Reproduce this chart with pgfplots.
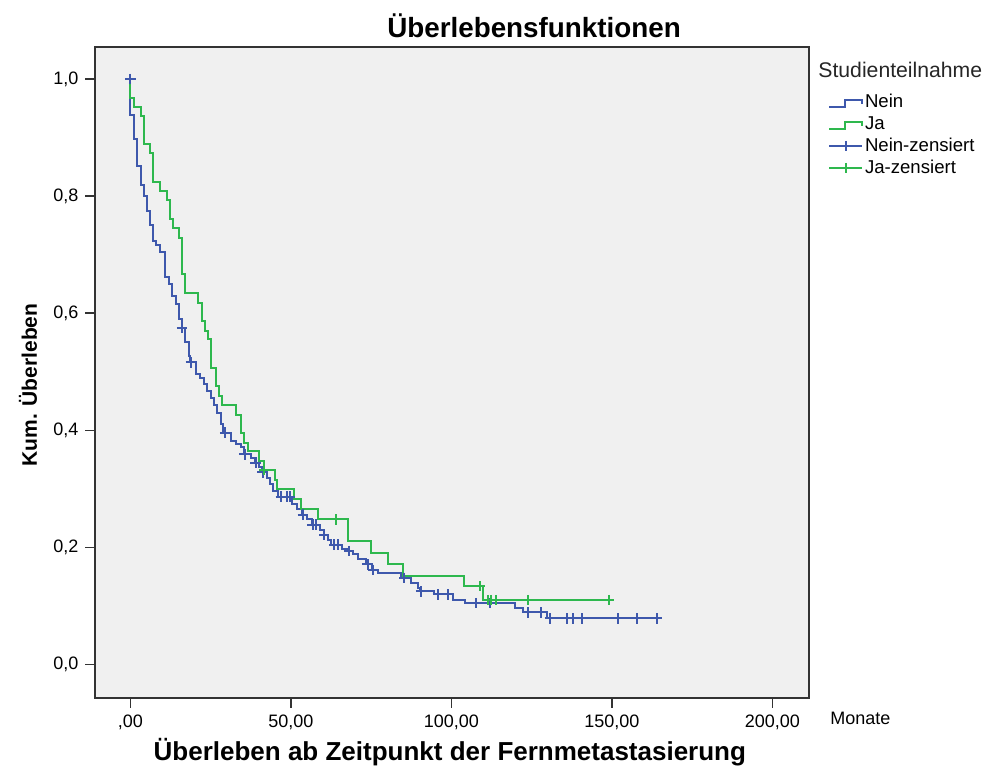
\documentclass[border=0pt]{standalone}
\usepackage{pgfplots}
\pgfplotsset{compat=1.18}
\usepackage{fontspec}
\setmainfont{Liberation Sans}

\definecolor{spssblue}{RGB}{62,88,172}
\definecolor{spssgreen}{RGB}{46,184,78}
\definecolor{spssbg}{RGB}{240,240,240}

\pgfplotsset{
    steplegend/.style={legend image code/.code={%
        \draw[##1] (0pt,-2.5pt) -- (8pt,-2.5pt) -- (8pt,1pt) -- (16.5pt,1pt) -- (16.5pt,-1pt);}},
    censlegend/.style={legend image code/.code={%
        \draw[##1] (0pt,0pt) -- (16.5pt,0pt);
        \draw[##1] plot coordinates {(8.25pt,0pt)};}},
}

% Kaplan-Meier steps: time (Monate), cumulative survival
\pgfplotstableread{
t y
0 1.000
0 0.938
1.0 0.897
2.1 0.851
3.3 0.818
4.2 0.800
5.2 0.775
6.25 0.750
7.1 0.724
8.1 0.716
9.2 0.705
10.9 0.661
12.0 0.650
13.0 0.630
14.1 0.615
15.1 0.590
16.1 0.575
17.1 0.550
18.2 0.527
18.6 0.516
20.3 0.496
21.7 0.490
22.9 0.479
24.0 0.467
25.0 0.456
26.0 0.444
27.1 0.430
28.1 0.410
29.0 0.396
31.3 0.382
32.8 0.376
34.4 0.371
35.3 0.359
37.5 0.352
38.7 0.345
40.0 0.337
40.9 0.328
42.5 0.318
43.5 0.308
44.5 0.297
46.0 0.287
50.5 0.275
52.0 0.265
53.5 0.256
55.0 0.248
56.5 0.239
59.0 0.230
60.2 0.222
61.5 0.213
62.5 0.205
66.0 0.198
67.5 0.194
69.3 0.188
71.0 0.180
73.5 0.171
75.3 0.162
77.1 0.156
84.2 0.148
87.5 0.140
89.5 0.131
90.3 0.125
94.7 0.120
100.5 0.111
104.2 0.105
119.8 0.097
122.4 0.089
129.7 0.079
164.1 0.079
}\neindata

\pgfplotstableread{
t y
0 1.000
0 0.967
1.0 0.952
3.3 0.937
4.2 0.889
6.0 0.874
7.0 0.824
9.2 0.809
11.5 0.794
12.3 0.761
13.3 0.745
15.1 0.729
16.1 0.667
17.1 0.635
21.1 0.618
22.4 0.587
23.2 0.570
24.2 0.556
25.2 0.507
26.6 0.476
27.6 0.459
28.6 0.444
32.8 0.427
34.4 0.396
35.4 0.379
36.5 0.365
40.1 0.348
41.5 0.332
45.0 0.315
45.8 0.299
51.0 0.282
53.1 0.266
58.3 0.248
67.7 0.211
75.0 0.190
80.2 0.171
84.9 0.152
103.9 0.134
109.9 0.110
149.0 0.110
}\jadata

% censored cases
\pgfplotstableread{
t y
0 1.000
16.1 0.575
18.8 0.516
29.5 0.396
35.6 0.359
39.0 0.345
41.2 0.328
46.9 0.287
48.7 0.287
49.8 0.287
53.7 0.256
56.8 0.239
57.8 0.239
60.4 0.222
63.5 0.205
64.6 0.205
68.2 0.194
73.9 0.171
75.5 0.162
85.4 0.148
90.6 0.125
95.8 0.120
98.9 0.120
107.8 0.105
112.0 0.105
123.9 0.089
127.9 0.089
130.7 0.079
135.9 0.079
137.8 0.079
140.8 0.079
151.9 0.079
157.8 0.079
164.1 0.079
}\neinzens

\pgfplotstableread{
t y
41.7 0.332
64.1 0.248
108.8 0.134
111.5 0.110
112.5 0.110
113.9 0.110
124.0 0.110
149.0 0.110
}\jazens

\begin{document}
\begin{tikzpicture}
\begin{axis}[
    at={(0,0)}, anchor=south west,
    scale only axis,
    width=356.6pt, height=325.65pt,
    xmin=-10.9, xmax=211.3,
    ymin=-0.057, ymax=1.055,
    axis background/.style={fill=spssbg},
    axis line style={draw=black!80, line width=0.9pt},
    xtick pos=bottom, ytick pos=left,
    tick align=outside,
    major tick length=5pt,
    tick style={black!80, line width=0.8pt},
    xtick={0,50,100,150,200},
    xticklabels={{,00},{50,00},{100,00},{150,00},{200,00}},
    ytick={0,0.2,0.4,0.6,0.8,1.0},
    yticklabels={{0,0},{0,2},{0,4},{0,6},{0,8},{1,0}},
    ticklabel style={font=\fontsize{9}{10}\selectfont},
    xlabel={\textbf{Überleben ab Zeitpunkt der Fernmetastasierung}},
    xlabel style={at={(axis description cs:0.497,-0.083)}, anchor=center,
        font=\fontsize{13}{15}\selectfont},
    ylabel={\textbf{Kum. Überleben}},
    ylabel style={at={(axis description cs:-0.0945,0.4806)}, anchor=center,
        rotate=0, font=\fontsize{10.5}{12}\selectfont},
    legend style={at={(axis description cs:1,1)}, anchor=north west,
        xshift=9.5pt, yshift=-22pt, draw=none, fill=none,
        inner sep=0pt, row sep=0pt,
        font=\fontsize{9.3}{11}\selectfont,
        nodes={inner sep=1pt, text height=7pt, text depth=2pt}},
    legend cell align=left,
    every axis plot/.append style={line width=1pt},
]
\addplot[spssblue, const plot, steplegend] table[x=t, y=y] {\neindata};
\addlegendentry{Nein}
\addplot[spssgreen, const plot, steplegend] table[x=t, y=y] {\jadata};
\addlegendentry{Ja}
\addplot[spssblue, only marks, mark=+, mark size=2.6pt, censlegend] table[x=t, y=y] {\neinzens};
\addlegendentry{Nein-zensiert}
\addplot[spssgreen, only marks, mark=+, mark size=2.6pt, censlegend] table[x=t, y=y] {\jazens};
\addlegendentry{Ja-zensiert}
\end{axis}
% title and loose labels, positions in pt from the axis corner
\node[anchor=center, font=\bfseries\fontsize{13.9}{15}\selectfont] at (219.3pt,336pt) {Überlebensfunktionen};
\node[anchor=west, inner sep=0pt, font=\fontsize{9}{10}\selectfont] at (367.3pt,-10pt) {Monate};
\node[anchor=west, inner sep=0pt, font=\fontsize{10.6}{12}\selectfont, text=black!85] at (361.3pt,314pt) {Studienteilnahme};
\pgfresetboundingbox
\useasboundingbox (-47.7pt,-35.5pt) rectangle (448.3pt,349pt);
\end{tikzpicture}
\end{document}
